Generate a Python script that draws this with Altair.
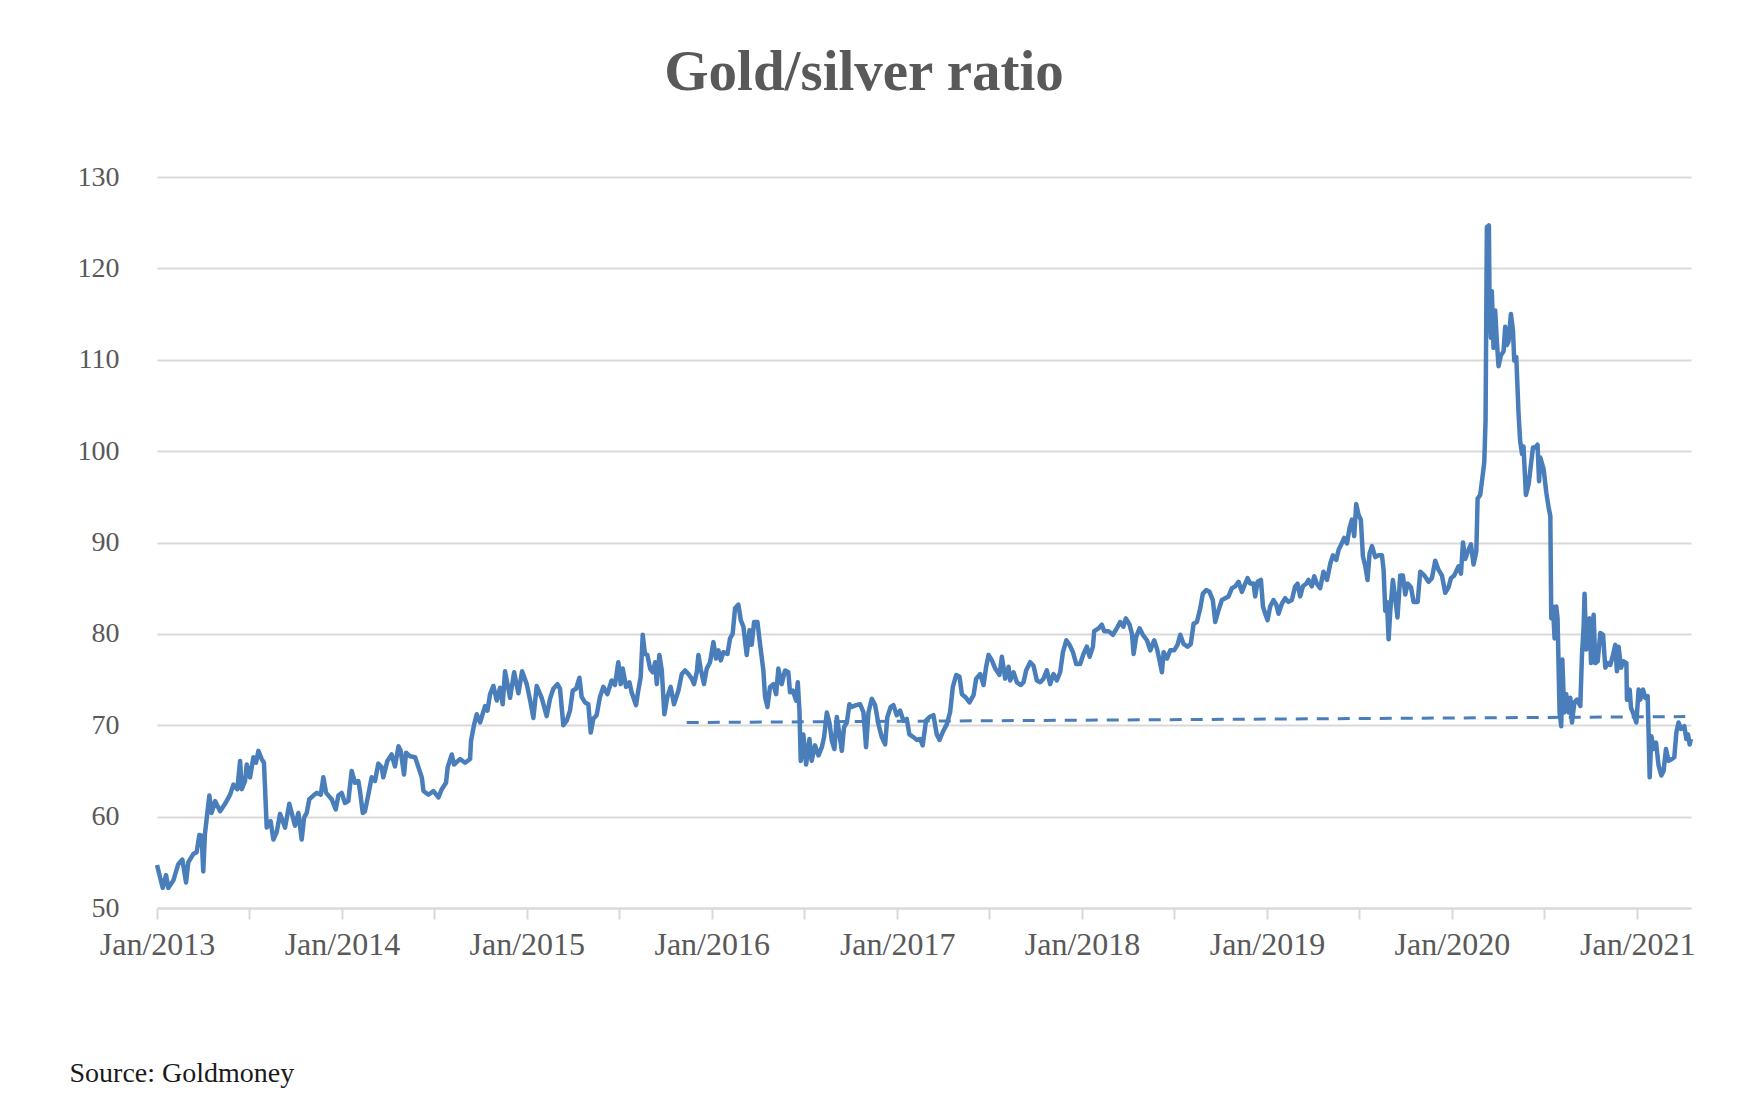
import altair as alt
import pandas as pd

# Gold/silver ratio (decimal year, ratio)
years = [
    2013.000, 2013.031, 2013.049, 2013.061, 2013.088, 2013.115, 2013.137, 2013.157, 2013.169, 2013.196,
    2013.214, 2013.229, 2013.241, 2013.250, 2013.259, 2013.272, 2013.283, 2013.295, 2013.314, 2013.341,
    2013.368, 2013.395, 2013.413, 2013.434, 2013.449, 2013.458, 2013.476, 2013.485, 2013.503, 2013.521,
    2013.535, 2013.548, 2013.566, 2013.578, 2013.593, 2013.614, 2013.629, 2013.647, 2013.665, 2013.692,
    2013.715, 2013.746, 2013.764, 2013.782, 2013.795, 2013.809, 2013.823, 2013.845, 2013.863, 2013.885,
    2013.899, 2013.914, 2013.944, 2013.966, 2013.980, 2013.998, 2014.016, 2014.034, 2014.052, 2014.070,
    2014.088, 2014.097, 2014.112, 2014.124, 2014.142, 2014.160, 2014.178, 2014.196, 2014.214, 2014.223,
    2014.245, 2014.268, 2014.286, 2014.305, 2014.317, 2014.335, 2014.346, 2014.368, 2014.395, 2014.413,
    2014.431, 2014.440, 2014.467, 2014.494, 2014.521, 2014.539, 2014.562, 2014.571, 2014.593, 2014.605,
    2014.638, 2014.665, 2014.692, 2014.697, 2014.714, 2014.728, 2014.746, 2014.773, 2014.786, 2014.800,
    2014.818, 2014.836, 2014.854, 2014.868, 2014.881, 2014.908, 2014.930, 2014.953, 2014.973, 2014.998,
    2015.016, 2015.034, 2015.052, 2015.079, 2015.106,
    2015.124, 2015.142, 2015.164, 2015.178, 2015.196, 2015.214, 2015.232, 2015.247, 2015.265, 2015.283,
    2015.295, 2015.313, 2015.331, 2015.344, 2015.358, 2015.376, 2015.394, 2015.412, 2015.434, 2015.457,
    2015.475, 2015.493, 2015.506, 2015.517, 2015.535, 2015.553, 2015.565, 2015.589, 2015.601, 2015.614,
    2015.625, 2015.637, 2015.650, 2015.665, 2015.679, 2015.692, 2015.701, 2015.715, 2015.728, 2015.742,
    2015.758, 2015.776, 2015.794, 2015.818, 2015.836, 2015.854, 2015.872, 2015.890, 2015.902, 2015.917,
    2015.926, 2015.938, 2015.956, 2015.971, 2015.989, 2016.007, 2016.021, 2016.034, 2016.047, 2016.061,
    2016.083, 2016.097, 2016.111, 2016.124, 2016.142, 2016.155, 2016.169, 2016.187, 2016.202, 2016.214,
    2016.227, 2016.245, 2016.259, 2016.277, 2016.286, 2016.299, 2016.313, 2016.331, 2016.346, 2016.358,
    2016.376, 2016.394, 2016.412, 2016.421, 2016.436, 2016.454, 2016.463, 2016.472, 2016.479, 2016.493,
    2016.508, 2016.526, 2016.538, 2016.556, 2016.575, 2016.593, 2016.605, 2016.620, 2016.634, 2016.647,
    2016.661, 2016.674, 2016.688, 2016.701, 2016.713, 2016.728, 2016.742, 2016.755, 2016.778, 2016.800,
    2016.818, 2016.832, 2016.845, 2016.863, 2016.881, 2016.899, 2016.917, 2016.935, 2016.947, 2016.965,
    2016.980, 2016.998, 2017.016, 2017.034, 2017.052, 2017.066, 2017.088, 2017.106, 2017.124, 2017.138,
    2017.156, 2017.175, 2017.196, 2017.214, 2017.229, 2017.250, 2017.268, 2017.286,
    2017.301, 2017.319, 2017.337, 2017.350, 2017.368, 2017.391, 2017.413, 2017.427, 2017.449, 2017.467,
    2017.481, 2017.494, 2017.512, 2017.530, 2017.553, 2017.566, 2017.584, 2017.602, 2017.611, 2017.629,
    2017.647, 2017.669, 2017.683, 2017.697, 2017.719, 2017.737, 2017.755, 2017.773, 2017.791, 2017.809,
    2017.827, 2017.845, 2017.863, 2017.881, 2017.896, 2017.914, 2017.932, 2017.950, 2017.968, 2017.989,
    2018.007, 2018.025, 2018.040, 2018.058, 2018.065, 2018.088, 2018.106, 2018.119, 2018.142, 2018.166,
    2018.187, 2018.205, 2018.223, 2018.236, 2018.256, 2018.269, 2018.278, 2018.292, 2018.310, 2018.328,
    2018.350, 2018.368, 2018.389, 2018.404, 2018.418, 2018.431, 2018.440, 2018.458, 2018.476, 2018.497,
    2018.515, 2018.530, 2018.548, 2018.569, 2018.587, 2018.602, 2018.620, 2018.638, 2018.652, 2018.670,
    2018.688, 2018.706, 2018.719, 2018.737, 2018.755, 2018.773, 2018.791, 2018.809, 2018.827, 2018.845,
    2018.863, 2018.881, 2018.894, 2018.908, 2018.926, 2018.935, 2018.948, 2018.966, 2018.977, 2018.989,
    2019.002, 2019.016, 2019.034, 2019.049, 2019.061, 2019.079, 2019.097, 2019.115, 2019.133, 2019.151,
    2019.164, 2019.178, 2019.193, 2019.211, 2019.223, 2019.241, 2019.254, 2019.268, 2019.286, 2019.304,
    2019.323, 2019.341, 2019.355, 2019.373, 2019.386, 2019.398, 2019.416, 2019.431, 2019.445, 2019.458,
    2019.470, 2019.481, 2019.494, 2019.506, 2019.517, 2019.530, 2019.542, 2019.553,
    2019.566, 2019.584, 2019.602, 2019.620, 2019.629, 2019.638, 2019.647, 2019.656, 2019.665, 2019.679,
    2019.692, 2019.704, 2019.719, 2019.733, 2019.746, 2019.759, 2019.777, 2019.791, 2019.813, 2019.827,
    2019.849, 2019.872, 2019.890, 2019.908, 2019.926, 2019.944, 2019.962, 2019.980, 2019.993, 2020.011,
    2020.034, 2020.047, 2020.058, 2020.070, 2020.088, 2020.101, 2020.115, 2020.130, 2020.137, 2020.151,
    2020.166, 2020.173, 2020.180, 2020.187, 2020.198, 2020.202, 2020.209, 2020.214, 2020.223, 2020.232,
    2020.241, 2020.250, 2020.263, 2020.277, 2020.286, 2020.295, 2020.304, 2020.317, 2020.328, 2020.335,
    2020.346, 2020.358, 2020.367, 2020.377, 2020.385, 2020.398, 2020.413,
    2020.436, 2020.449, 2020.461, 2020.469, 2020.476, 2020.494, 2020.508, 2020.521, 2020.530, 2020.535,
    2020.544, 2020.553, 2020.562, 2020.569, 2020.580, 2020.589, 2020.595, 2020.605, 2020.616, 2020.629,
    2020.638, 2020.647, 2020.660, 2020.674, 2020.692, 2020.701, 2020.710, 2020.715, 2020.724, 2020.733,
    2020.742, 2020.750, 2020.764, 2020.773, 2020.786, 2020.800, 2020.815, 2020.827, 2020.840, 2020.854,
    2020.869, 2020.881, 2020.890, 2020.899, 2020.912, 2020.926, 2020.941, 2020.944, 2020.959, 2020.966,
    2020.980, 2020.995, 2021.007, 2021.016, 2021.031, 2021.043, 2021.056, 2021.061, 2021.067, 2021.076,
    2021.088, 2021.101, 2021.115, 2021.130, 2021.142, 2021.155, 2021.169, 2021.187, 2021.200, 2021.211,
    2021.223, 2021.236, 2021.254, 2021.265, 2021.274, 2021.283, 2021.290,
]

ratio = [
    54.7, 52.2, 53.6, 52.2, 53.0, 54.8, 55.3, 52.8, 55.0, 55.9,
    56.1, 58.0, 57.9, 54.0, 58.1, 60.4, 62.3, 60.4, 61.7, 60.6,
    61.4, 62.4, 63.5, 63.0, 66.1, 63.0, 63.9, 65.7, 64.3, 66.5,
    65.9, 67.2, 66.3, 65.9, 58.8, 59.5, 57.5, 58.3, 60.3, 58.8,
    61.4, 59.0, 60.4, 57.5, 59.9, 60.4, 61.9, 62.3, 62.6, 62.4,
    64.3, 62.6, 61.9, 60.8, 62.3, 62.6, 61.5, 61.7, 65.0, 63.7,
    63.9, 62.8, 60.4, 60.6, 62.4, 64.3, 63.9, 65.8, 65.4, 64.3,
    66.1, 66.8, 65.5, 67.7, 67.2, 64.6, 67.0, 66.6, 66.5, 65.4,
    64.3, 62.8, 62.4, 62.8, 62.1, 63.0, 63.7, 65.4, 66.8, 65.7,
    66.3, 65.9, 66.3, 68.3, 70.1, 71.2, 70.3, 72.1, 71.6, 73.4,
    74.3, 72.7, 74.1, 72.3, 75.9, 73.0, 75.8, 73.5, 75.9, 74.5,
    72.8, 70.8, 74.3, 73.0, 71.0,
    72.9, 74.0, 74.5, 74.0, 70.0, 70.5, 71.6, 73.8, 74.0, 75.2,
    73.1, 72.5, 72.3, 69.2, 70.7, 71.1, 73.1, 74.2, 73.4, 74.9,
    74.4, 76.9, 74.5, 76.2, 74.2, 74.7, 73.6, 72.2, 73.8, 75.3,
    79.9, 77.8, 77.7, 76.2, 75.8, 76.9, 74.5, 77.7, 76.0, 71.2,
    73.1, 74.2, 72.3, 73.8, 75.6, 76.0, 75.6, 75.1, 74.5, 75.8,
    77.7, 76.2, 74.5, 76.2, 76.9, 79.1, 77.3, 78.2, 77.1, 78.0,
    77.8, 79.5, 80.0, 82.8, 83.2, 81.5, 80.8, 77.7, 80.4, 78.8,
    81.3, 81.3, 78.9, 76.0, 73.1, 72.0, 74.2, 74.5, 73.4, 76.2,
    74.5, 76.0, 75.8, 73.6, 73.8, 72.7, 74.7, 71.6, 66.1, 69.0,
    65.7, 68.5, 66.1, 67.8, 66.7, 67.6, 68.7, 71.4, 70.3, 68.3,
    67.4, 70.9, 69.0, 67.2, 69.8, 70.3, 72.3, 72.0, 72.2, 72.3,
    71.4, 67.6, 71.4, 72.9, 72.2, 70.1, 68.7, 67.9, 70.9, 72.0,
    72.2, 71.1, 71.6, 70.5, 70.7, 69.0, 68.7, 68.4, 68.5, 67.8,
    70.5, 70.9, 71.1, 69.0, 68.4, 69.4, 70.1, 71.4,
    74.2, 75.5, 75.3, 73.4, 73.1, 72.5, 73.3, 75.1, 75.6, 74.4,
    76.4, 77.7, 77.1, 76.2, 75.5, 77.5, 75.1, 76.4, 74.9, 75.8,
    74.7, 74.4, 74.7, 76.0, 76.9, 76.5, 74.9, 74.7, 75.1, 76.0,
    74.5, 75.6, 74.9, 75.8, 78.0, 79.3, 78.8, 78.0, 76.7, 76.7,
    77.8, 78.6, 77.5, 78.6, 80.3, 80.6, 81.0, 80.3, 80.3, 79.9,
    80.6, 81.3, 80.8, 81.7, 81.0, 80.0, 77.8, 79.7, 80.6, 79.9,
    79.3, 78.2, 79.3, 78.4, 77.1, 75.8, 78.0, 77.3, 78.2, 78.2,
    78.8, 79.9, 78.9, 78.6, 78.9, 81.1, 81.3, 82.8, 84.4, 84.8,
    84.6, 83.7, 81.3, 82.6, 83.7, 83.9, 84.1, 85.0, 85.2, 85.7,
    84.6, 85.5, 86.1, 85.5, 85.5, 84.1, 85.7, 85.9, 83.0, 82.2,
    81.5, 83.0, 83.7, 83.2, 82.2, 83.3, 83.9, 83.5, 83.7, 85.2,
    85.5, 84.1, 85.2, 85.5, 85.9, 85.2, 86.3, 85.5, 85.0, 86.8,
    85.9, 87.7, 88.6, 88.1, 89.2, 89.7, 90.5, 89.9, 91.6, 92.5,
    90.7, 94.2, 93.0, 92.5, 88.5, 87.4, 85.9, 88.8,
    89.6, 88.4, 88.6, 88.6, 87.0, 82.5, 83.5, 79.4, 82.5, 85.9,
    83.9, 81.8, 86.4, 86.4, 84.3, 85.5, 85.1, 83.5, 83.5, 86.8,
    86.4, 85.7, 86.1, 88.0, 87.0, 86.4, 84.5, 85.1, 86.1, 86.4,
    87.4, 86.6, 90.0, 88.2, 89.2, 89.8, 87.6, 89.0, 94.8, 95.2,
    97.6, 98.8, 103.4, 124.5, 124.7, 115.2, 112.4, 117.5, 111.3, 115.4,
    112.0, 109.3, 110.5, 110.9, 113.6, 111.6, 112.0, 115.0, 113.2, 109.9,
    110.3, 104.2, 101.1, 99.7, 100.5, 95.2, 96.4,
    100.4, 100.4, 100.7, 96.7, 99.3, 98.0, 95.5, 93.8, 92.9, 81.7,
    83.0, 79.5, 83.0, 81.7, 71.4, 69.9, 77.2, 71.4, 73.4, 71.4,
    73.0, 70.3, 72.5, 72.8, 72.1, 77.7, 80.8, 84.4, 78.3, 81.2,
    81.7, 76.8, 82.1, 76.8, 77.0, 80.1, 79.9, 76.3, 76.8, 76.6,
    77.7, 78.8, 75.9, 78.6, 76.3, 77.0, 76.8, 72.8, 73.9, 71.9,
    71.2, 70.3, 73.9, 72.8, 73.9, 73.0, 73.2, 69.2, 64.3, 68.8,
    67.4, 68.1, 65.6, 64.5, 65.0, 67.4, 66.1, 66.3, 66.5, 69.2,
    70.3, 69.6, 69.9, 68.5, 69.0, 67.9, 68.5,
]

# Dashed reference line (start and end, decimal year / ratio)
trend_years = [2015.863, 2021.259]
trend_values = [70.3, 70.95]

y_ticks = [50, 60, 70, 80, 90, 100, 110, 120, 130]
tick_years = list(range(2013, 2022))

TITLE = "Gold/silver ratio"
SOURCE = "Source: Goldmoney"
BLUE = "#4a7ebb"
GREY_TEXT = "#595959"
GRID = "#d9d9d9"
FONT = "Liberation Serif"


def to_stamp(y):
    ts = pd.Timestamp("2013-01-01") + pd.to_timedelta((y - 2013) * 365.25, unit="D")
    return ts.strftime("%Y-%m-%dT%H:%M:%S")


df = pd.DataFrame({"date": [to_stamp(y) for y in years], "ratio": ratio})
tdf = pd.DataFrame({"date": [to_stamp(y) for y in trend_years], "ratio": trend_values})

tick_values = []
for yr in tick_years:
    tick_values.append(alt.DateTime(year=yr, month=1, date=1))
    if yr < 2021:
        tick_values.append(alt.DateTime(year=yr, month=7, date=1))

x_scale = alt.Scale(
    domain=[alt.DateTime(year=2013, month=1, date=1), alt.DateTime(year=2021, month=4, date=17)],
    nice=False,
)
y_scale = alt.Scale(domain=[50, 130], nice=False, zero=False)

x_axis = alt.Axis(
    values=tick_values,
    labelExpr="month(datum.value) == 0 ? timeFormat(datum.value, '%b/%Y') : ''",
    grid=False,
    domainColor=GRID,
    domainWidth=2,
    tickColor=GRID,
    tickWidth=2,
    tickSize=11,
    labelFont=FONT,
    labelFontSize=32,
    labelColor=GREY_TEXT,
    labelPadding=10,
    labelFlush=False,
    labelOverlap=False,
    labelBound=False,
    title=SOURCE,
    titleFont=FONT,
    titleFontSize=28,
    titleFontWeight="normal",
    titleColor="#1a1a1a",
    titleAnchor="start",
    titleAlign="left",
    titleBaseline="alphabetic",
    titleX=-88,
    titleY=173,
)

y_axis = alt.Axis(
    values=y_ticks,
    title=None,
    grid=True,
    gridColor=GRID,
    gridWidth=2,
    domain=False,
    ticks=False,
    tickSize=0,
    labelFont=FONT,
    labelFontSize=28,
    labelColor=GREY_TEXT,
    labelPadding=38,
)

line = alt.Chart(df).mark_line(color=BLUE, strokeWidth=4.5, strokeJoin="round").encode(
    x=alt.X("date:T", scale=x_scale, axis=x_axis, title=SOURCE),
    y=alt.Y("ratio:Q", scale=y_scale, axis=y_axis, title=None),
)

trend = alt.Chart(tdf).mark_line(color=BLUE, strokeWidth=3, strokeDash=[12, 9]).encode(
    x=alt.X("date:T", scale=x_scale, title=SOURCE),
    y=alt.Y("ratio:Q", scale=y_scale, title=None),
)

chart = (
    alt.layer(line, trend)
    .properties(
        width=1534,
        height=731,
        title=alt.TitleParams(
            text=TITLE,
            font=FONT,
            fontSize=57,
            fontWeight="bold",
            color=GREY_TEXT,
            anchor="middle",
            frame="group",
            dx=-60,
            offset=16,
            baseline="alphabetic",
        ),
        padding={"left": 149, "top": 169, "right": 41, "bottom": 196},
        autosize=alt.AutoSizeParams(type="none"),
        background="white",
    )
    .configure_view(stroke=None)
)

chart.save("out.html", embed_options={"renderer": "svg", "actions": False})
